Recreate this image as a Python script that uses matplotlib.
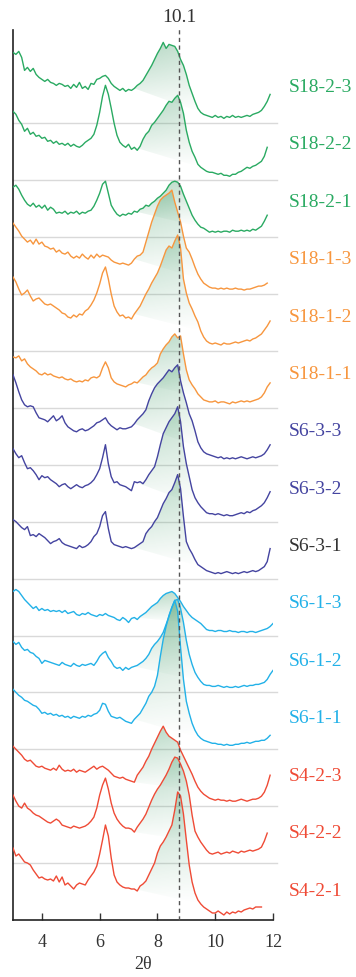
import numpy as np
import matplotlib
matplotlib.use("Agg")
import matplotlib.pyplot as plt
from matplotlib.patches import Polygon

plt.rcParams['font.family'] = ['Liberation Serif', 'DejaVu Serif']

nan = np.nan

# 2-theta sampling positions (deg)
two_theta = [3.0, 3.1, 3.2, 3.3, 3.4, 3.5, 3.6, 3.7, 3.8, 3.9,
             4.0, 4.1, 4.2, 4.3, 4.4, 4.5, 4.6, 4.7, 4.8, 4.9,
             5.0, 5.1, 5.2, 5.3, 5.4, 5.5, 5.6, 5.7, 5.8, 5.9,
             6.0, 6.1, 6.2, 6.3, 6.4, 6.5, 6.6, 6.7, 6.8, 6.9,
             7.0, 7.1, 7.2, 7.3, 7.4, 7.5, 7.6, 7.7, 7.8, 7.9,
             8.0, 8.1, 8.2, 8.3, 8.4, 8.5, 8.6, 8.7, 8.8, 8.9,
             9.0, 9.1, 9.2, 9.3, 9.4, 9.5, 9.6, 9.7, 9.8, 9.9,
             10.0, 10.1, 10.2, 10.3, 10.4, 10.5, 10.6, 10.7, 10.8, 10.9,
             11.0, 11.1, 11.2, 11.3, 11.4, 11.5, 11.6, 11.7, 11.8, 11.9,
             12.0]

# intensities (a.u.), bottom sample first
s4_2_1 = [72, 64, 66, 62, 58, 57, 55, 50, 46, 42,
          43, 41, 40, 41, 39, 44, 38, 43, 35, 37,
          34, 31, 35, 37, 36, 35, 40, 44, 48, 54,
          66, 80, 95, 84, 62, 45, 38, 35, 33, 32,
          32, 31, 31, 29, 34, 36, 39, 45, 51, 57,
          67, 74, 78, 83, 89, 95, 110, 128, 124, 106,
          80, 55, 38, 27, 20, 16, 13, 11, 9, 7,
          7, 9, 7, 5, 8, 6, 8, 7, 9, 8,
          10, 11, 12, 11, 13, 13, 13, nan, nan, nan,
          nan]
s4_2_2 = [68, 62, 57, 55, 60, 55, 53, 50, 48, 47,
          45, 43, 41, 40, 42, 44, 42, 38, 37, 36,
          35, 37, 36, 35, 36, 37, 39, 42, 46, 55,
          68, 78, 85, 74, 60, 50, 44, 40, 37, 35,
          35, 34, 31, 36, 40, 44, 49, 56, 63, 69,
          74, 78, 83, 88, 94, 101, 106, 105, 99, 92,
          82, 68, 48, 32, 26, 21, 17, 13, 10, 9,
          10, 11, 9, 10, 11, 10, 12, 11, 10, 12,
          11, 12, 13, 12, 13, 14, 16, 22, 30, nan,
          nan]
s4_2_3 = [60, 57, 54, 51, 47, 45, 46, 43, 40, 39,
          40, 38, 37, 36, 38, 36, 41, 37, 35, 36,
          35, 37, 34, 36, 35, 34, 36, 38, 40, 37,
          39, 40, 38, 36, 33, 30, 29, 28, 29, 27,
          26, 25, 24, 31, 35, 39, 45, 50, 57, 63,
          69, 75, 80, 74, 70, 68, 66, 64, 56, 50,
          44, 38, 32, 25, 19, 15, 12, 10, 8, 7,
          6, 7, 6, 6, 5, 6, 5, 5, 6, 7,
          6, 5, 6, 7, 7, 8, 10, 14, 21, 31,
          nan]
s6_1_1 = [60, 57, 54, 52, 49, 48, 46, 44, 43, 40,
          36, 37, 35, 36, 34, 35, 33, 34, 32, 33,
          31, 33, 32, 31, 33, 32, 34, 33, 35, 36,
          39, 46, 45, 38, 33, 32, 31, 32, 30, 28,
          27, 26, 30, 33, 36, 41, 46, 53, 57, 63,
          74, 93, 110, 123, 134, 142, 149, 138, 102, 70,
          48, 36, 26, 19, 14, 11, 9, 8, 7, 6,
          6, 5, 5, 4, 5, 4, 4, 5, 5, 6,
          6, 7, 6, 7, 8, 8, 9, 9, 11, 14,
          nan]
s6_1_2 = [51, 48, 50, 45, 42, 43, 40, 39, 36, 34,
          29, 32, 31, 30, 29, 28, 27, 30, 28, 27,
          26, 29, 27, 26, 28, 27, 28, 29, 27, 31,
          36, 39, 41, 35, 31, 26, 24, 25, 22, 25,
          23, 25, 26, 27, 29, 31, 34, 38, 44, 48,
          51, 55, 60, 68, 76, 85, 92, 93, 84, 70,
          52, 38, 28, 20, 15, 11, 8, 7, 7, 6,
          6, 7, 6, 5, 6, 5, 5, 6, 5, 6,
          7, 6, 7, 7, 8, 8, 9, 10, 13, 18,
          22]
s6_1_3 = [44, 46, 44, 40, 36, 33, 30, 27, 29, 25,
          27, 25, 26, 24, 25, 24, 25, 23, 25, 22,
          23, 24, 21, 20, 22, 21, 23, 21, 20, 19,
          21, 20, 22, 20, 19, 18, 16, 15, 18, 16,
          13, 17, 18, 16, 19, 21, 23, 26, 29, 31,
          33, 37, 40, 42, 43, 44, 42, 38, 34, 29,
          25, 21, 18, 16, 14, 12, 9, 6, 5, 5,
          4, 5, 5, 4, 4, 5, 4, 4, 3, 4,
          4, 3, 4, 4, 3, 4, 5, 6, 7, 9,
          12]
s6_3_1 = [59, 57, 54, 51, 49, 52, 43, 44, 42, 45,
          43, 41, 38, 35, 37, 38, 40, 36, 34, 33,
          32, 31, 30, 33, 31, 32, 34, 37, 42, 45,
          52, 63, 67, 50, 37, 34, 33, 32, 31, 32,
          31, 30, 31, 33, 35, 37, 45, 49, 52, 57,
          61, 68, 75, 80, 86, 89, 96, 104, 90, 62,
          37, 30, 25, 19, 14, 12, 10, 8, 7, 6,
          5, 6, 5, 6, 7, 6, 5, 6, 5, 6,
          7, 6, 7, 8, 7, 8, 10, 12, 17, 30,
          nan]
s6_3_2 = [73, 68, 64, 66, 59, 53, 54, 51, 47, 42,
          46, 44, 45, 42, 40, 38, 35, 37, 38, 35,
          33, 35, 37, 35, 34, 36, 37, 39, 42, 47,
          53, 64, 77, 58, 45, 39, 40, 37, 36, 35,
          33, 31, 40, 39, 40, 38, 42, 47, 51, 55,
          65, 77, 88, 94, 100, 104, 108, 115, 100, 75,
          58, 45, 32, 24, 19, 15, 12, 9, 8, 8,
          7, 8, 7, 6, 7, 6, 6, 7, 8, 9,
          8, 10, 9, 11, 12, 14, 16, 19, 24, 30,
          nan]
s6_3_3 = [90, 82, 73, 65, 60, 58, 59, 58, 52, 47,
          46, 45, 43, 46, 49, 44, 46, 49, 42, 38,
          36, 34, 33, 35, 36, 34, 35, 37, 39, 42,
          43, 45, 47, 42, 39, 37, 35, 37, 36, 36,
          37, 38, 41, 45, 48, 51, 55, 64, 71, 77,
          81, 84, 87, 91, 95, 93, 97, 100, 84, 72,
          62, 51, 44, 34, 23, 17, 13, 11, 10, 9,
          8, 7, 8, 6, 7, 6, 7, 6, 7, 8,
          7, 6, 7, 8, 7, 8, 9, 11, 15, 20,
          nan]
s18_1_1 = [51, 50, 52, 47, 49, 44, 41, 39, 37, 34,
           33, 35, 33, 34, 32, 31, 30, 31, 29, 28,
           29, 27, 26, 27, 26, 28, 27, 30, 31, 30,
           32, 40, 46, 40, 30, 26, 24, 23, 22, 21,
           23, 24, 26, 25, 28, 31, 33, 37, 40, 42,
           45, 54, 59, 63, 66, 71, 74, 70, 72, 54,
           38, 28, 23, 19, 14, 11, 8, 7, 6, 6,
           7, 5, 6, 6, 5, 4, 6, 5, 6, 7,
           6, 7, 6, 7, 8, 9, 11, 15, 21, 25,
           nan]
s18_1_2 = [74, 69, 62, 56, 58, 61, 55, 50, 52, 53,
           50, 47, 46, 47, 45, 43, 41, 38, 37, 34,
           33, 36, 34, 37, 36, 40, 42, 46, 51, 58,
           67, 78, 84, 72, 57, 45, 39, 35, 36, 33,
           34, 32, 37, 41, 45, 51, 57, 62, 68, 73,
           78, 85, 93, 101, 105, 103, 110, 116, 103, 72,
           58, 48, 42, 35, 29, 20, 14, 10, 8, 7,
           8, 7, 6, 8, 7, 7, 8, 9, 8, 9,
           10, 11, 10, 12, 13, 15, 17, 21, 25, 30,
           nan]
s18_1_3 = [71, 67, 63, 58, 55, 52, 54, 50, 55, 50,
           52, 48, 47, 45, 46, 42, 44, 41, 40, 42,
           38, 36, 38, 36, 40, 37, 35, 39, 36, 40,
           37, 39, 38, 37, 34, 32, 31, 30, 31, 30,
           29, 31, 35, 38, 39, 42, 52, 62, 72, 80,
           88, 94, 97, 99, 101, 104, 92, 82, 72, 58,
           46, 42, 35, 27, 20, 15, 11, 9, 7, 6,
           6, 5, 6, 5, 6, 5, 5, 6, 5, 5,
           4, 5, 5, 6, 7, 8, 8, 9, 11, nan,
           nan]
s18_2_1 = [50, 52, 48, 42, 37, 33, 31, 34, 30, 32,
           29, 32, 27, 30, 28, 24, 25, 24, 26, 23,
           25, 24, 26, 23, 25, 24, 26, 27, 31, 37,
           44, 53, 56, 44, 32, 27, 23, 21, 23, 22,
           24, 23, 26, 25, 28, 29, 32, 31, 34, 36,
           39, 41, 44, 47, 52, 55, 56, 55, 51, 43,
           36, 29, 22, 17, 13, 10, 9, 7, 5, 6,
           5, 6, 5, 6, 6, 5, 7, 6, 6, 7,
           6, 7, 6, 8, 7, 9, 11, 16, 22, nan,
           nan]
s18_2_2 = [69, 66, 60, 56, 49, 52, 46, 48, 44, 45,
           42, 43, 39, 40, 37, 39, 36, 37, 35, 37,
           34, 36, 34, 33, 35, 38, 40, 42, 46, 55,
           68, 84, 95, 86, 72, 57, 45, 38, 35, 33,
           36, 31, 33, 30, 34, 41, 46, 49, 55, 58,
           62, 66, 70, 75, 79, 78, 82, 85, 78, 67,
           50, 38, 29, 23, 16, 13, 11, 9, 8, 8,
           7, 6, 7, 5, 5, 4, 6, 6, 8, 9,
           11, 13, 12, 14, 15, 17, 19, 24, 33, nan,
           nan]
s18_2_3 = [71, 69, 72, 66, 53, 56, 52, 55, 49, 46,
           44, 42, 44, 41, 40, 38, 40, 39, 37, 38,
           35, 39, 36, 41, 35, 37, 34, 40, 39, 44,
           45, 47, 48, 45, 40, 37, 35, 33, 35, 32,
           34, 33, 35, 38, 40, 43, 48, 53, 58, 64,
           70, 75, 81, 75, 79, 78, 77, 72, 64, 58,
           49, 38, 30, 22, 15, 11, 9, 8, 7, 6,
           8, 6, 7, 5, 7, 6, 8, 6, 7, 6,
           7, 8, 7, 9, 10, 11, 13, 17, 22, 29,
           nan]

samples = ['S4-2-1', 'S4-2-2', 'S4-2-3', 'S6-1-1', 'S6-1-2', 'S6-1-3',
           'S6-3-1', 'S6-3-2', 'S6-3-3', 'S18-1-1', 'S18-1-2', 'S18-1-3',
           'S18-2-1', 'S18-2-2', 'S18-2-3']
patterns = [s4_2_1, s4_2_2, s4_2_3, s6_1_1, s6_1_2, s6_1_3,
            s6_3_1, s6_3_2, s6_3_3, s18_1_1, s18_1_2, s18_1_3,
            s18_2_1, s18_2_2, s18_2_3]
ref_angle = 8.76
ref_label = '10.1'

red, cyan, navy, orange, green = '#EF4B36', '#22B1E8', '#4444A0', '#F7963E', '#2AAA62'
line_colors = [red] * 3 + [cyan] * 3 + [navy] * 3 + [orange] * 3 + [green] * 3
label_colors = list(line_colors)
label_colors[6] = '#333333'
fill_rgb = (0.20, 0.58, 0.36)

step = 56.9
x = np.array(two_theta)

fig = plt.figure(figsize=(3.56, 9.77), dpi=100)
ax = fig.add_axes([13 / 356, 57 / 977, 260 / 356, 890 / 977])


def shade(ax, xs, ys, lo=7.2, hi=9.5):
    sel = (xs >= lo - 1e-9) & (xs <= hi + 1e-9) & np.isfinite(ys)
    px, py = xs[sel], ys[sel]
    poly = Polygon(np.column_stack([px, py]), closed=True, fc='none', ec='none')
    ax.add_patch(poly)
    n = 64
    v = np.linspace(0, 1, n)[:, None] * np.ones((1, n))
    u = np.ones((n, 1)) * np.linspace(0, 1, n)[None, :]
    rgba = np.zeros((n, n, 4))
    rgba[..., 0], rgba[..., 1], rgba[..., 2] = fill_rgb
    rgba[..., 3] = 0.38 * v ** 1.0 * (1 - 0.3 * u)
    im = ax.imshow(rgba, extent=(lo, hi, py.min(), py.max()), origin='lower',
                   aspect='auto', interpolation='bilinear', zorder=1)
    im.set_clip_path(poly)


for k in range(1, len(samples)):
    ax.plot([3, 12.15], [k * step, k * step], color='#d9d9d9', lw=1.0,
            zorder=0.5, clip_on=False)

for k, (name, vals) in enumerate(zip(samples, patterns)):
    y = np.array(vals, dtype=float) + k * step
    shade(ax, x, y)
    ax.plot(x, y, color=line_colors[k], lw=1.0, zorder=3)
    ax.text(12.56, 29 + 57.4 * k, name, color=label_colors[k], fontsize=14,
            ha='left', va='center', clip_on=False)

ax.plot([ref_angle, ref_angle], [0, 893], color='#555555', lw=1.0,
        dashes=(3, 2.5), zorder=4, clip_on=False)
ax.text(ref_angle, 903, ref_label, ha='center', va='center', fontsize=14,
        color='#333333', clip_on=False)

ax.set_xlim(3, 12)
ax.set_ylim(0, 890)
ax.set_xticks([4, 6, 8, 10, 12])
ax.set_yticks([])
ax.tick_params(axis='x', direction='in', length=5, width=1, pad=10,
               labelsize=13, colors='#333333')
for side in ['top', 'right']:
    ax.spines[side].set_visible(False)
for side in ['left', 'bottom']:
    ax.spines[side].set_color('#222222')
    ax.spines[side].set_linewidth(1.2)
ax.set_xlabel('2θ', fontsize=13, color='#333333', labelpad=4)

fig.savefig('out.png', dpi=100)
